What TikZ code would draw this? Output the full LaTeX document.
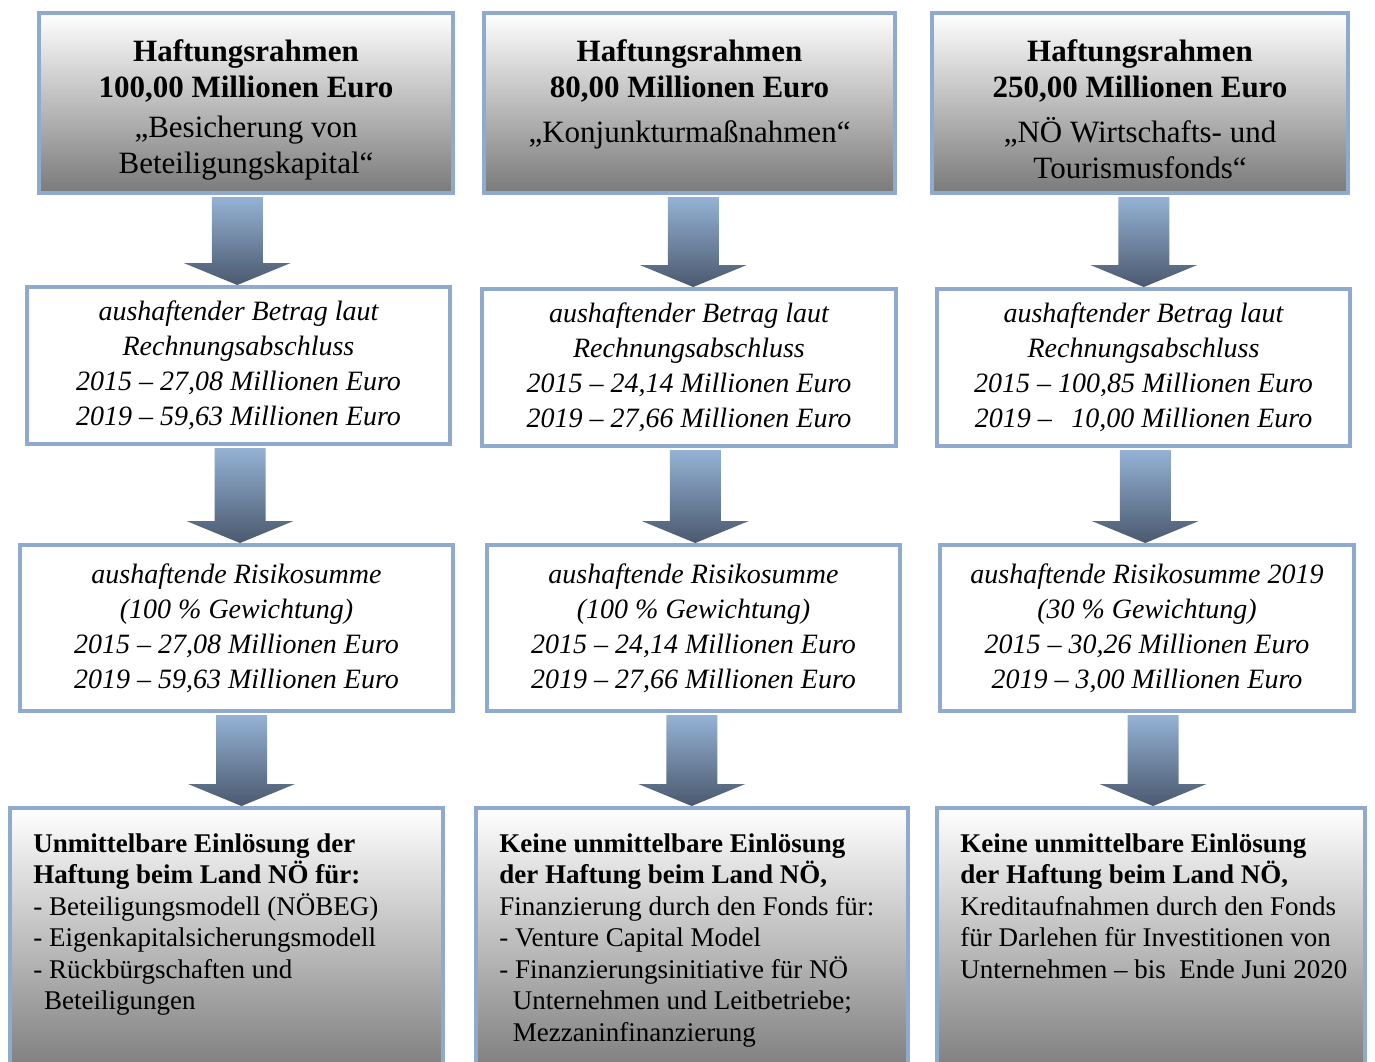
\documentclass[tikz,border=0pt]{standalone}
\usepackage{fontspec}
\setmainfont{Liberation Serif}
\usetikzlibrary{calc}
\definecolor{rand}{RGB}{143,170,204}
\definecolor{pfeiloben}{RGB}{149,178,213}
\definecolor{pfeilunten}{RGB}{74,89,110}
\definecolor{grauunten}{RGB}{122,122,122}
\tikzset{
  kasten/.style={draw=rand,line width=2pt,inner sep=0pt},
  kopf/.style={kasten,top color=white,bottom color=grauunten},
  wert/.style={kasten,fill=white,align=center,font=\itshape\fontsize{14}{17.5}\selectfont},
  kopftext/.style={anchor=north,align=center,inner sep=0pt,font=\fontsize{15.5}{18}\selectfont},
  fusstext/.style={anchor=north west,align=left,inner sep=0pt,font=\fontsize{13.5}{15.75}\selectfont},
  pfeil/.style={top color=pfeiloben,bottom color=pfeilunten}
}
% Blockpfeil von Kasten #2 nach Kasten #3, #1 = Versatz
\newcommand{\blockpfeil}[3][0]{%
\shade[pfeil] let \p1=(#2.south), \p2=(#3.north), \p3=($(#2.south)!0.5!(#3.north)+(#1,0)$) in
({\x3-12.75pt},{\y1-1pt})--({\x3+12.75pt},{\y1-1pt})--({\x3+12.75pt},{\y2+11pt})--({\x3+26.75pt},{\y2+11pt})
--(\x3,\y2)--({\x3-26.75pt},{\y2+11pt})--({\x3-12.75pt},{\y2+11pt})--cycle;}
\begin{document}
\begin{tikzpicture}[x=0.5pt,y=-0.5pt]
\useasboundingbox (0,0) rectangle (1375,1061);
% Haftungsrahmen
\node[kopf,minimum width=207pt,minimum height=90pt] (a1) at (246,103) {};
\node[kopf,minimum width=205.5pt,minimum height=90pt] (b1) at (689.5,103) {};
\node[kopf,minimum width=208pt,minimum height=90pt] (c1) at (1140,103) {};
\node[kopftext] (a1t) at ([yshift=-14pt]a1.north) {\textbf{Haftungsrahmen}\\\textbf{100,00 Millionen Euro}\\[2pt]„Besicherung von\\Beteiligungskapital“};
\node[kopftext] (b1t) at ([yshift=-14pt]b1.north) {\textbf{Haftungsrahmen}\\\textbf{80,00 Millionen Euro}\\[4.5pt]„Konjunkturmaßnahmen“};
\node[kopftext] (c1t) at ([yshift=-14pt]c1.north) {\textbf{Haftungsrahmen}\\\textbf{250,00 Millionen Euro}\\[4.5pt]„NÖ Wirtschafts- und\\Tourismusfonds“};
% aushaftender Betrag
\node[wert,minimum width=211.5pt,minimum height=78.5pt] (a2) at (238.5,365.5) {aushaftender Betrag laut\\Rechnungsabschluss\\2015 – 27,08 Millionen Euro\\2019 – 59,63 Millionen Euro};
\node[wert,minimum width=207pt,minimum height=78.5pt] (b2) at (689,367.5) {aushaftender Betrag laut\\Rechnungsabschluss\\2015 – 24,14 Millionen Euro\\2019 – 27,66 Millionen Euro};
\node[wert,minimum width=206.5pt,minimum height=78.5pt] (c2) at (1143.5,367.5) {aushaftender Betrag laut\\Rechnungsabschluss\\2015 – 100,85 Millionen Euro\\2019 –\hspace{0.7em}10,00 Millionen Euro};
% Risikosumme
\node[wert,minimum width=216.5pt,minimum height=83pt] (a3) at (236.5,628) {aushaftende Risikosumme\\(100 \% Gewichtung)\\2015 – 27,08 Millionen Euro\\2019 – 59,63 Millionen Euro};
\node[wert,minimum width=206.5pt,minimum height=83pt] (b3) at (693.5,628) {aushaftende Risikosumme\\(100 \% Gewichtung)\\2015 – 24,14 Millionen Euro\\2019 – 27,66 Millionen Euro};
\node[wert,minimum width=207pt,minimum height=83pt] (c3) at (1147,628) {aushaftende Risikosumme 2019\\(30 \% Gewichtung)\\2015 – 30,26 Millionen Euro\\2019 – 3,00 Millionen Euro};
% Einloesung
\node[kopf,minimum width=216.5pt,minimum height=135pt] (a4) at (226.5,943) {};
\node[kopf,minimum width=216pt,minimum height=135pt] (b4) at (692,943) {};
\node[kopf,minimum width=214pt,minimum height=135pt] (c4) at (1151,943) {};
\node[fusstext] (a4t) at ([xshift=12.5pt,yshift=-13.5pt]a4.north west) {\textbf{Unmittelbare Einlösung der}\\\textbf{Haftung beim Land NÖ für:}\\- Beteiligungsmodell (NÖBEG)\\- Eigenkapitalsicherungsmodell\\- Rückbürgschaften und\\\hspace*{0.4em}Beteiligungen};
\node[fusstext] (b4t) at ([xshift=12.5pt,yshift=-13.5pt]b4.north west) {\textbf{Keine unmittelbare Einlösung}\\\textbf{der Haftung beim Land NÖ,}\\Finanzierung durch den Fonds für:\\- Venture Capital Model\\- Finanzierungsinitiative für NÖ\\\hspace*{0.5em}Unternehmen und Leitbetriebe;\\\hspace*{0.5em}Mezzaninfinanzierung};
\node[fusstext] (c4t) at ([xshift=12.5pt,yshift=-13.5pt]c4.north west) {\textbf{Keine unmittelbare Einlösung}\\\textbf{der Haftung beim Land NÖ,}\\Kreditaufnahmen durch den Fonds\\für Darlehen für Investitionen von\\Unternehmen – bis\ \ Ende Juni 2020};
% Pfeile
\blockpfeil[-5]{a1}{a2}
\blockpfeil[2.5]{a2}{a3}
\blockpfeil[10]{a3}{a4}
\blockpfeil[4]{b1}{b2}
\blockpfeil[4]{b2}{b3}
\blockpfeil[-1]{b3}{b4}
\blockpfeil[2]{c1}{c2}
\blockpfeil{c2}{c3}
\blockpfeil[4]{c3}{c4}
\end{tikzpicture}
\end{document}
